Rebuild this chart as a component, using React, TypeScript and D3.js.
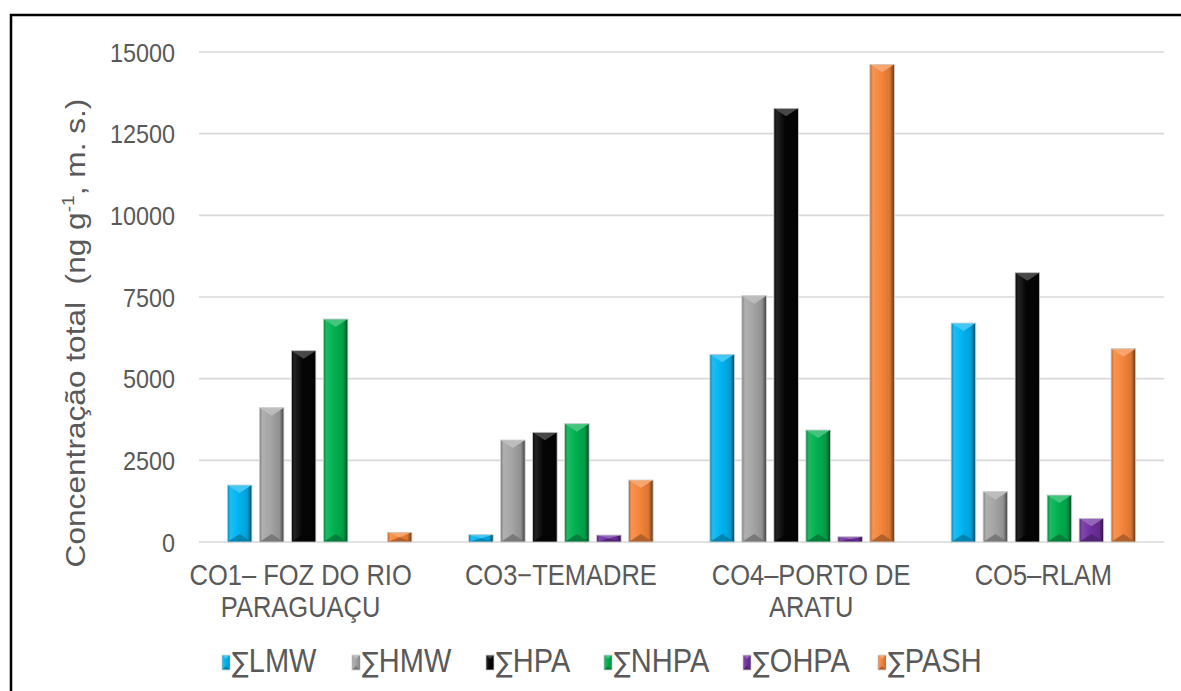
import React from "react";
import * as d3 from "d3";

const categories = ["CO1", "CO3", "CO4", "CO5"];
const categoryLines = [
  ["CO1– FOZ DO RIO", "PARAGUAÇU"],
  ["CO3−TEMADRE"],
  ["CO4–PORTO DE", "ARATU"],
  ["CO5–RLAM"],
];
const seriesNames = ["LMW", "HMW", "HPA", "NHPA", "OHPA", "PASH"];
const seriesColors = ["#00B4F2", "#A5A5A5", "#050505", "#00B050", "#7030A0", "#F5853A"];

const LMW = [1745, 224, 5745, 6704];
const HMW = [4112, 3122, 7541, 1541];
const HPA = [5857, 3357, 13276, 8245];
const NHPA = [6827, 3622, 3429, 1439];
const OHPA = [0, 214, 163, 724];
const PASH = [297, 1898, 14622, 5918];
const seriesValues = [LMW, HMW, HPA, NHPA, OHPA, PASH];

const yTicks = [0, 2500, 5000, 7500, 10000, 12500, 15000];

const W = 1181;
const H = 691;
const FONT = "'Liberation Sans', Arial, Helvetica, sans-serif";
const TXT = "#595959";
const SY = 1.13;

const lighten = (c: string, t: number) => d3.interpolateRgb(c, "#ffffff")(t);
const darken = (c: string, t: number) => d3.interpolateRgb(c, "#000000")(t);

function BevelBar({ x, y, w, h, color, id, depth = 8 }: any) {
  if (h <= 0) return null;
  const d = Math.min(depth, h / 2);
  const top = `${x},${y} ${x + w},${y} ${x + w / 2},${y + d}`;
  const bot = `${x},${y + h} ${x + w},${y + h} ${x + w / 2},${y + h - d}`;
  return (
    <g>
      <rect x={x} y={y} width={w} height={h} fill={`url(#grad-${id})`} />
      <polygon points={top} fill={lighten(color, 0.28)} opacity={0.95} />
      <polygon points={bot} fill={darken(color, 0.3)} opacity={0.9} />
      <rect x={x} y={y} width={w} height={h} fill="none" stroke="#d0d0d0" strokeWidth={0.8} />
    </g>
  );
}

function STxt({ x, y, size, anchor = "start", children }: any) {
  return (
    <text
      transform={`translate(${x},${y}) scale(1,${SY})`}
      textAnchor={anchor}
      fontSize={size}
      fill={TXT}
    >
      {children}
    </text>
  );
}

export default function App() {
  const x0 = d3.scaleBand<string>().domain(categories).range([199, 1164]).paddingInner(0).paddingOuter(0);
  const x1 = d3
    .scaleBand<string>()
    .domain(seriesNames)
    .range([0, x0.bandwidth()])
    .paddingInner(0.234)
    .paddingOuter(0.887);
  const y = d3.scaleLinear().domain([0, 15000]).range([542, 52]);

  const legendX = [222, 352, 486, 604, 743, 878];

  return (
    <svg
      width={W}
      height={H}
      style={{ position: "absolute", left: 0, top: 0, background: "#fff" }}
      fontFamily={FONT}
    >
      <defs>
        {seriesColors.map((c, i) => (
          <linearGradient key={i} id={`grad-${i}`} x1="0" x2="1" y1="0" y2="0">
            <stop offset="0%" stopColor={darken(c, 0.25)} />
            <stop offset="12%" stopColor={lighten(c, 0.12)} />
            <stop offset="45%" stopColor={c} />
            <stop offset="82%" stopColor={darken(c, 0.12)} />
            <stop offset="100%" stopColor={darken(c, 0.6)} />
          </linearGradient>
        ))}
      </defs>
      <rect x={0} y={0} width={W} height={H} fill="#fff" />
      <rect x={11} y={15} width={W + 20} height={H + 20} fill="none" stroke="#000" strokeWidth={2.5} />

      {/* gridlines */}
      {yTicks.map((t) => (
        <line key={t} x1={199} x2={1164} y1={y(t)} y2={y(t)} stroke="#D9D9D9" strokeWidth={1.6} />
      ))}
      {/* y tick labels */}
      {yTicks.map((t) => (
        <STxt key={t} x={175} y={y(t) + 9.5} size={23.4} anchor="end">
          {t}
        </STxt>
      ))}

      {/* y title */}
      <text
        transform={`translate(85,333) rotate(-90) scale(${SY},1)`}
        textAnchor="middle"
        fontSize={28}
        fill={TXT}
        style={{ whiteSpace: "pre" }}
      >
        {"Concentração total  (ng g"}
        <tspan fontSize={17} dy={-11}>-1</tspan>
        <tspan dy={11}>{", m. s.)"}</tspan>
      </text>

      {/* bars */}
      {categories.map((cat, ci) => (
        <g key={cat} transform={`translate(${x0(cat)},0)`}>
          {seriesNames.map((s, si) => {
            const v = seriesValues[si][ci];
            const bx = x1(s)!;
            const by = y(v);
            return (
              <BevelBar key={s} x={bx} y={by} w={x1.bandwidth()} h={y(0) - by} color={seriesColors[si]} id={si} />
            );
          })}
        </g>
      ))}

      {/* x labels */}
      {categories.map((cat, ci) => {
        const offsets = [-19, 0, 9, 0];
        const cx = x0(cat)! + x0.bandwidth() / 2 + offsets[ci];
        return categoryLines[ci].map((l, li) => (
          <STxt key={cat + li} x={cx} y={585 + li * 32} size={25.5} anchor="middle">
            {l}
          </STxt>
        ));
      })}

      {/* legend */}
      {seriesNames.map((s, i) => (
        <g key={s}>
          <BevelBar x={legendX[i]} y={655} w={8} h={15} color={seriesColors[i]} id={i} depth={4} />
          <STxt x={legendX[i] + 10} y={672} size={29}>
            <tspan fontFamily="'DejaVu Sans'" fontSize={25}>∑</tspan>
            {s}
          </STxt>
        </g>
      ))}
    </svg>
  );
}
